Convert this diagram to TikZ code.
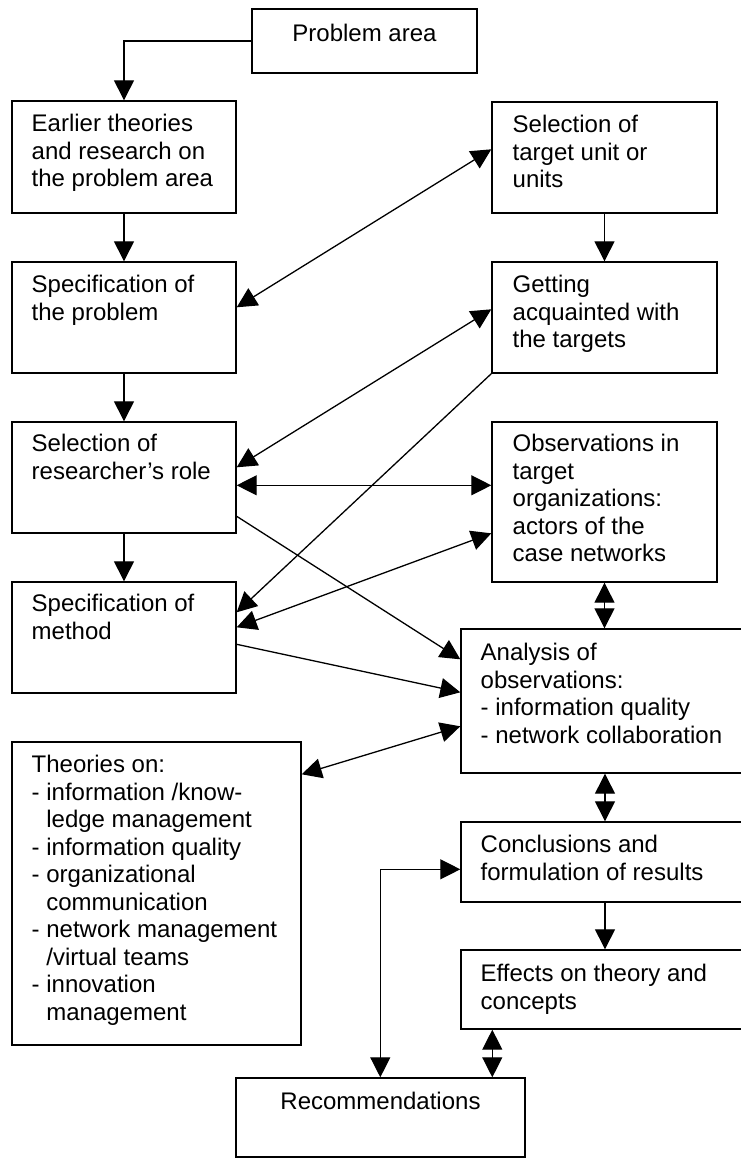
\documentclass[tikz,border=0pt]{standalone}
\usepackage{fontspec}
\setmainfont{Liberation Sans}
\usetikzlibrary{arrows.meta,calc,fit}
\newcommand\mystrut{\rule{0pt}{10pt}}
\begin{document}
\begin{tikzpicture}[x=0.5pt,y=-0.5pt,
  box/.style={draw, line width=0.7pt, inner sep=0pt},
  txt/.style={anchor=north west, inner sep=0pt, align=left, font=\fontsize{12}{13.75}\selectfont},
  ctxt/.style={anchor=north, inner sep=0pt, align=center, font=\fontsize{12}{13.75}\selectfont},
  arr/.style={line width=0.65pt, -{Triangle[length=10pt,width=10pt]}},
  dbl/.style={line width=0.65pt, {Triangle[length=10pt,width=10pt]}-{Triangle[length=10pt,width=10pt]}}]
\useasboundingbox (0,0) rectangle (740,1158);

% left column
\node[box, fit={(252,9) (477,73)}] (pa) {};
\node[ctxt] (pa-t) at ($(pa.north)+(0,13)$) {\mystrut Problem area};

\node[box, fit={(12,101) (236,213)}] (ear) {};
\node[txt] (ear-t) at ($(ear.north west)+(20,11)$) {\mystrut Earlier theories\\and research on\\the problem area};

\node[box, fit={(12,262) (236,373)}] (spp) {};
\node[txt] (spp-t) at ($(spp.north west)+(20,11)$) {\mystrut Specification of\\the problem};

\node[box, fit={(12,422) (236,533)}] (role) {};
\node[txt] (role-t) at ($(role.north west)+(20,10)$) {\mystrut Selection of\\researcher’s role};

\node[box, fit={(12,582) (236,693)}] (meth) {};
\node[txt] (meth-t) at ($(meth.north west)+(20,10)$) {\mystrut Specification of\\method};

\node[box, fit={(12,742) (301,1045)}] (theo) {};
\node[txt] (theo-t) at ($(theo.north west)+(20,11)$) {\mystrut Theories on:\\- information /know-\\\phantom{-\ }ledge management\\- information quality\\- organizational\\\phantom{-\ }communication\\- network management\\\phantom{-\ }/virtual teams\\- innovation\\\phantom{-\ }management};

\node[box, fit={(236,1078) (525,1157)}] (rec) {};
\node[ctxt] (rec-t) at ($(rec.north)+(0,12)$) {\mystrut Recommendations};

% right column
\node[box, fit={(492,102) (717,213)}] (tgt) {};
\node[txt] (tgt-t) at ($(tgt.north west)+(21,11)$) {\mystrut Selection of\\target unit or\\units};

\node[box, fit={(492,262) (717,373)}] (get) {};
\node[txt] (get-t) at ($(get.north west)+(21,11)$) {\mystrut Getting\\acquainted with\\the targets};

\node[box, fit={(492,422) (717,582)}] (obs) {};
\node[txt] (obs-t) at ($(obs.north west)+(21,10)$) {\mystrut Observations in\\target\\organizations:\\actors of the\\case networks};

\node[box, fit={(461,629) (749,773)}] (ana) {};
\node[txt] (ana-t) at ($(ana.north west)+(20,12)$) {\mystrut Analysis of\\observations:\\- information quality\\- network collaboration};

\node[box, fit={(461,822) (749,902)}] (con) {};
\node[txt] (con-t) at ($(con.north west)+(20,11)$) {\mystrut Conclusions and\\formulation of results};

\node[box, fit={(461,950) (749,1029)}] (eff) {};
\node[txt] (eff-t) at ($(eff.north west)+(20,12)$) {\mystrut Effects on theory and\\concepts};

% connectors
\draw[arr] (pa.west) -| (ear.north);
\draw[arr] (ear.south) -- (spp.north);
\draw[arr] (spp.south) -- (role.north);
\draw[arr] (role.south) -- (meth.north);
\draw[arr] (tgt.south) -- (get.north);
\draw[dbl] ($(spp.north east)+(0,46)$) -- ($(tgt.north west)+(0,48)$);
\draw[dbl] ($(get.north west)+(0,48)$) -- ($(role.north east)+(0,46)$);
\draw[arr] (get.south west) -- ($(meth.north east)+(0,31)$);
\draw[dbl] ($(role.north east)+(0,64)$) -- ($(obs.north west)+(0,64)$);
\draw[dbl] ($(meth.north east)+(0,46)$) -- ($(obs.north west)+(0,112)$);
\draw[arr] ($(role.north east)+(0,95)$) -- ($(ana.north west)+(0,31)$);
\draw[arr] ($(meth.north east)+(0,63)$) -- ($(ana.north west)+(0,64)$);
\draw[dbl] ($(theo.north east)+(0,33)$) -- ($(ana.north west)+(0,98)$);
\draw[dbl] (obs.south) -- (obs.south |- ana.north);
\draw[dbl] (ana.south) -- (con.north);
\draw[arr] (con.south) -- (eff.north);
\coordinate (e1) at ($(eff.south west)+(32,0)$);
\draw[dbl] (e1) -- (e1 |- rec.north);
\coordinate (c1) at ($(con.north west)+(0,48)$);
\coordinate (r1) at ($(rec.north west)+(145,0)$);
\draw[dbl] (c1) -| (r1);
\end{tikzpicture}
\end{document}
